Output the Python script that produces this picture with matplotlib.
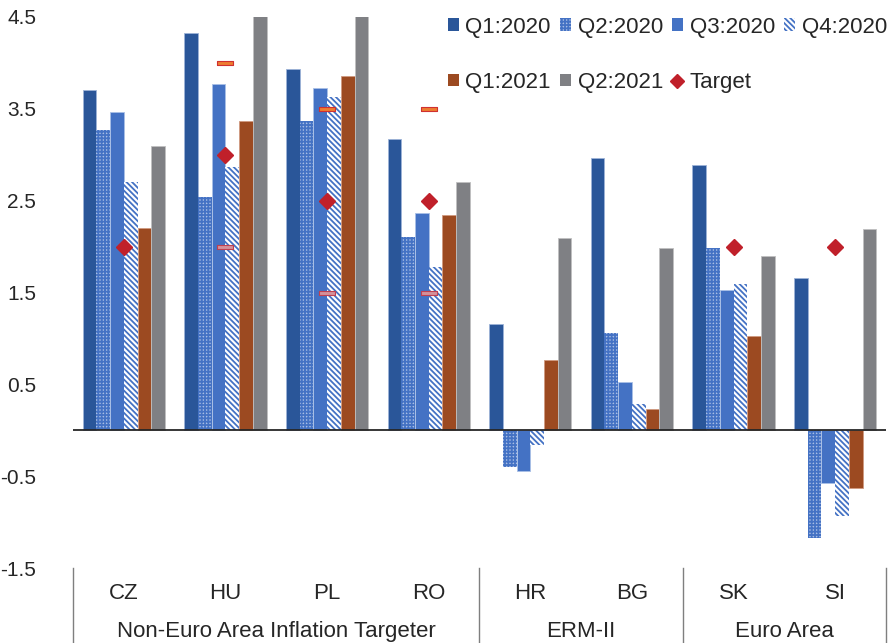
import numpy as np
import matplotlib
matplotlib.use("Agg")
import matplotlib.pyplot as plt
from matplotlib.patches import Patch
from matplotlib.lines import Line2D
import matplotlib.transforms as mtransforms

plt.rcParams['font.family'] = ['Liberation Sans', 'DejaVu Sans']
plt.rcParams['hatch.linewidth'] = 1.3

countries = ["CZ", "HU", "PL", "RO", "HR", "BG", "SK", "SI"]
groups = ["Non-Euro Area Inflation Targeter", "ERM-II", "Euro Area"]
group_sizes = [4, 2, 2]

series_names = ["Q1:2020", "Q2:2020", "Q3:2020", "Q4:2020", "Q1:2021", "Q2:2021"]
q1_2020 = [3.70, 4.33, 3.93, 3.17, 1.16, 2.96, 2.89, 1.66]
q2_2020 = [3.27, 2.54, 3.37, 2.10, -0.40, 1.06, 1.99, -1.17]
q3_2020 = [3.47, 3.77, 3.73, 2.37, -0.44, 0.53, 1.53, -0.57]
q4_2020 = [2.70, 2.87, 3.63, 1.78, -0.16, 0.29, 1.59, -0.93]
q1_2021 = [2.20, 3.37, 3.86, 2.34, 0.76, 0.23, 1.03, -0.63]
q2_2021 = [3.10, 5.10, 4.60, 2.70, 2.09, 1.99, 1.90, 2.19]
target = [2.0, 3.0, 2.5, 2.5, np.nan, np.nan, 2.0, 2.0]
upper_band = [np.nan, 4.0, 3.5, 3.5, np.nan, np.nan, np.nan, np.nan]
lower_band = [np.nan, 2.0, 1.5, 1.5, np.nan, np.nan, np.nan, np.nan]

yticks = [-1.5, -0.5, 0.5, 1.5, 2.5, 3.5, 4.5]

series = [q1_2020, q2_2020, q3_2020, q4_2020, q1_2021, q2_2021]
styles = [
    dict(facecolor="#2A5699", edgecolor="#9DB3D8", linewidth=0.6),
    dict(facecolor="#A8BDE4", edgecolor="#4472C4", hatch="+++++", linewidth=0),
    dict(facecolor="#4472C4", edgecolor="#A9C0E6", linewidth=0.6),
    dict(facecolor="white", edgecolor="#4472C4", hatch="\\\\\\\\\\\\", linewidth=0),
    dict(facecolor="#9C4A21", edgecolor="#D09A80", linewidth=0.6),
    dict(facecolor="#7F8084", edgecolor="#C0C0C0", linewidth=0.6),
]

FS = 16
TXT = "#262626"

fig = plt.figure(figsize=(8.95, 6.43), dpi=100)
ax = fig.add_axes([73/895, 1-568/643, (886-73)/895, (568-17)/643])

x = np.arange(len(countries))
w = 0.135
n = len(series)
for i, (vals, st) in enumerate(zip(series, styles)):
    ax.bar(x + (i - (n-1)/2) * w, vals, width=w, label=series_names[i], zorder=2, **st)

ax.axhline(0, color=TXT, linewidth=1.3, zorder=3)

rect = [(-1, -0.28), (1, -0.28), (1, 0.28), (-1, 0.28), (-1, -0.28)]
ax.plot(x, upper_band, linestyle="none", marker=rect, markersize=11,
        markerfacecolor="#ED7D31", markeredgecolor="#D03030", markeredgewidth=0.8, zorder=4)
ax.plot(x, lower_band, linestyle="none", marker=rect, markersize=11,
        markerfacecolor="#D4919B", markeredgecolor="#C04050", markeredgewidth=0.8, zorder=4)
ax.plot(x, target, linestyle="none", marker="D", markersize=8,
        color="#C0202A", zorder=5, label="Target")

ax.set_xlim(-0.5, len(countries) - 0.5)
ax.set_ylim(-1.5, 4.5)
ax.set_yticks(yticks)
ax.set_yticklabels([f"{t:g}" for t in yticks])
ax.tick_params(axis="y", length=0, pad=26.5, labelsize=15, colors=TXT)
ax.set_xticks([])
for s in ax.spines.values():
    s.set_visible(False)

trans = mtransforms.blended_transform_factory(ax.transData, ax.transAxes)
for xi, c in zip(x, countries):
    ax.text(xi, -0.046, c, transform=trans, ha="center", va="center",
            fontsize=FS, color=TXT)
bounds = np.concatenate([[0], np.cumsum(group_sizes)]) - 0.5
for b in bounds:
    ax.plot([b, b], [0, -0.14], transform=trans, color="#7F7F7F",
            linewidth=1.0, clip_on=False)
for gname, b0, b1 in zip(groups, bounds[:-1], bounds[1:]):
    ax.text((b0 + b1) / 2, -0.115, gname, transform=trans, ha="center", va="center",
            fontsize=FS, color=TXT)

h = []
for nm, st in zip(series_names, styles):
    st2 = dict(st)
    st2["linewidth"] = 0
    h.append(Patch(label=nm, **st2))
tgt = Line2D([], [], linestyle="none", marker="D", markersize=7, color="#C0202A", label="Target")
order = [h[0], h[4], h[1], h[5], h[2], tgt, h[3]]
leg = ax.legend(handles=order, labels=[o.get_label() for o in order], ncol=4,
                loc="upper right", bbox_to_anchor=(1.012, 1.017), frameon=False,
                fontsize=FS, handlelength=0.5, handleheight=0.5,
                handletextpad=0.3, columnspacing=0.4, labelspacing=1.55,
                borderaxespad=0)
for t in leg.get_texts():
    t.set_color(TXT)

fig.savefig("out.png", dpi=100)
